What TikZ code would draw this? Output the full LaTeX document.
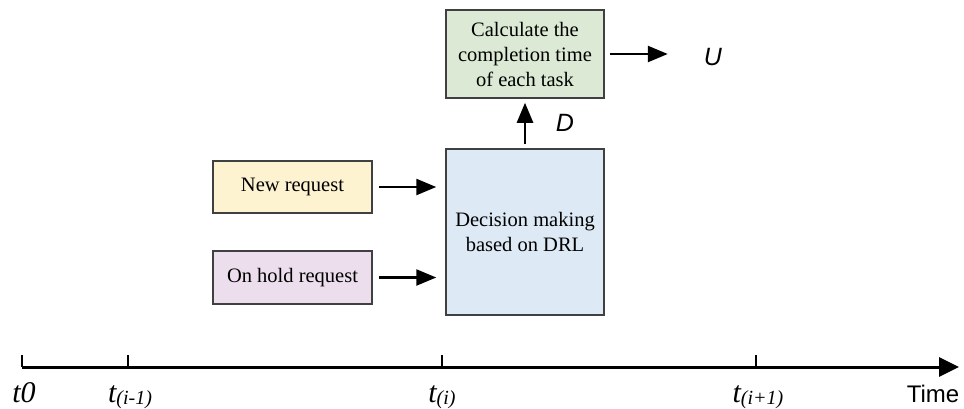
\documentclass[tikz,border=0pt]{standalone}
\usepackage{fontspec}
\setmainfont{Liberation Serif}
\setsansfont{Liberation Sans}
\usetikzlibrary{arrows.meta}
\definecolor{boxline}{RGB}{64,64,64}
\definecolor{cgreen}{RGB}{220,234,213}
\definecolor{cblue}{RGB}{221,233,245}
\definecolor{cyellow}{RGB}{253,243,208}
\definecolor{cpurple}{RGB}{236,222,236}
\tikzset{
  procbox/.style={draw=boxline, line width=1.5pt, rectangle, align=center,
    font=\fontsize{20.5}{25}\selectfont, inner sep=0pt},
  arr/.style={line width=2.5pt, -{Triangle[length=20pt,width=16pt]}},
  sym/.style={font=\sffamily\itshape\fontsize{25}{25}\selectfont, inner sep=0pt},
  tlab/.style={font=\itshape\fontsize{30}{30}\selectfont, inner sep=0pt, anchor=base},
}
\newcommand{\subt}[1]{{\fontsize{20}{20}\selectfont\raisebox{-2pt}{#1}}}
\begin{document}
\begin{tikzpicture}[x=1pt,y=-1pt]
\useasboundingbox (0,0) rectangle (964,408);
% boxes
\node[procbox, fill=cgreen, minimum width=158pt, minimum height=88pt] (calc) at (525,54)
  {Calculate the\\completion time\\of each task};
\node[procbox, fill=cblue, minimum width=158pt, minimum height=166pt] (drl) at (525,232)
  {Decision making\\based on DRL};
\node[procbox, fill=cyellow, minimum width=159pt, minimum height=52pt] (new) at (292.5,187)
  {New request};
\node[procbox, fill=cpurple, minimum width=159pt, minimum height=53pt] (hold) at (292.5,277.5)
  {On hold request};
\node[sym] (U) at (713,57) {U};
\node[sym] (D) at (565,123) {D};
% connectors
\draw[arr, shorten <=6pt, shorten >=9pt] (new.east) -- (new.east -| drl.west);
\draw[arr, shorten <=6pt, shorten >=9pt] (hold.east) -- (hold.east -| drl.west);
\draw[arr, shorten <=4pt, shorten >=4pt] (drl.north) -- (calc.south);
\draw[arr, shorten <=5pt, shorten >=36pt] (calc.east) -- (calc.east -| U.west);
% timeline
\coordinate (t0) at (22,367);
\coordinate (tend) at (959,367);
\coordinate (tim1) at (128,367);
\coordinate (ti) at (442,367);
\coordinate (tip1) at (756,367);
\draw[line width=3pt, -{Triangle[length=20pt,width=19pt]}] (t0) -- (tend);
\foreach \c in {t0,tim1,ti,tip1} \draw[line width=1.2pt] (\c) -- ++(0,-12);
\node[tlab] (l0) at (24,402) {t0};
\node[tlab] (l1) at (130,402) {t\subt{(i-1)}};
\node[tlab] (l2) at (442,402) {t\subt{(i)}};
\node[tlab] (l3) at (758,402) {t\subt{(i+1)}};
\node[font=\sffamily\fontsize{24}{24}\selectfont, inner sep=0pt, anchor=base] (time) at (933,402) {Time};
\end{tikzpicture}
\end{document}
